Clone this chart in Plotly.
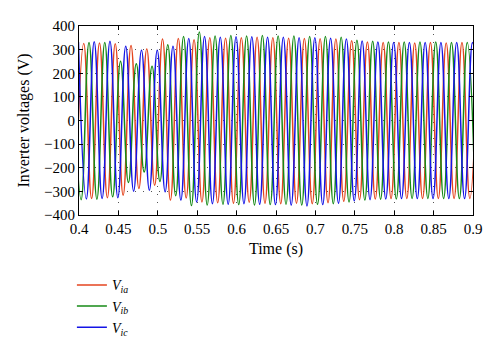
import plotly.graph_objects as go

# Extremum (peak / trough) times and values
ia_t = [0.396, 0.406, 0.416, 0.426, 0.436, 0.446, 0.456, 0.466, 0.476, 0.486,
        0.496, 0.506, 0.516, 0.526, 0.536, 0.546, 0.556, 0.566, 0.576, 0.586,
        0.596, 0.606, 0.616, 0.626, 0.636, 0.646, 0.656, 0.666, 0.676, 0.686,
        0.696, 0.706, 0.716, 0.726, 0.736, 0.746, 0.756, 0.766, 0.776, 0.786,
        0.796, 0.806, 0.816, 0.826, 0.836, 0.846, 0.856, 0.866, 0.876, 0.886,
        0.896, 0.906]
ia_v = [-330, 326, -330, 328, -327, 325, -316, 317, -288, 303,
        -274, 345, -337, 347, -328, 342, -345, 350, -348, 348,
        -350, 350, -346, 352, -350, 350, -352, 348, -350, 347,
        -352, 346, -348, 345, -342, 338, -335, 332, -332, 330,
        -330, 330, -330, 328, -330, 330, -330, 328, -330, 330,
        -330, 328]

ib_t = [0.3927, 0.4027, 0.4127, 0.4227, 0.4327, 0.4427, 0.4527, 0.4627, 0.4727, 0.4827,
        0.4927, 0.5027, 0.5127, 0.5227, 0.5327, 0.5427, 0.5527, 0.5627, 0.5727, 0.5827,
        0.5927, 0.6027, 0.6127, 0.6227, 0.6327, 0.6427, 0.6527, 0.6627, 0.6727, 0.6827,
        0.6927, 0.7027, 0.7127, 0.7227, 0.7327, 0.7427, 0.7527, 0.7627, 0.7727, 0.7827,
        0.7927, 0.8027, 0.8127, 0.8227, 0.8327, 0.8427, 0.8527, 0.8627, 0.8727, 0.8827,
        0.8927, 0.9027]
ib_v = [330, -335, 330, -333, 330, -323, 251, -262, 240, -218,
        230, -258, 321, -318, 356, -360, 375, -358, 358, -355,
        360, -356, 358, -358, 360, -356, 358, -355, 358, -358,
        356, -355, 356, -352, 352, -345, 340, -337, 335, -333,
        332, -332, 332, -330, 332, -330, 332, -330, 330, -330,
        330, -330]

ic_t = [0.3993, 0.4093, 0.4193, 0.4293, 0.4393, 0.4493, 0.4593, 0.4693, 0.4793, 0.4893,
        0.4993, 0.5093, 0.5193, 0.5293, 0.5393, 0.5493, 0.5593, 0.5693, 0.5793, 0.5893,
        0.5993, 0.6093, 0.6193, 0.6293, 0.6393, 0.6493, 0.6593, 0.6693, 0.6793, 0.6893,
        0.6993, 0.7093, 0.7193, 0.7293, 0.7393, 0.7493, 0.7593, 0.7693, 0.7793, 0.7893,
        0.7993, 0.8093, 0.8193, 0.8293, 0.8393, 0.8493, 0.8593, 0.8693, 0.8793, 0.8893,
        0.8993, 0.9093]
ic_v = [332, -332, 333, -330, 335, -327, 314, -299, 297, -295,
        297, -302, 314, -337, 347, -345, 356, -352, 352, -355,
        355, -352, 354, -355, 352, -356, 352, -358, 350, -362,
        350, -356, 348, -350, 345, -340, 336, -335, 332, -332,
        330, -330, 330, -330, 330, -330, 330, -330, 330, -330,
        330, -330]

x_ticks = [0.4, 0.45, 0.5, 0.55, 0.6, 0.65, 0.7, 0.75, 0.8, 0.85, 0.9]
y_ticks = [400, 300, 200, 100, 0, -100, -200, -300, -400]

series = [
    ("<i>V</i><sub><i>ia</i></sub>", ia_t, ia_v, "#e4451f"),
    ("<i>V</i><sub><i>ib</i></sub>", ib_t, ib_v, "#168a16"),
    ("<i>V</i><sub><i>ic</i></sub>", ic_t, ic_v, "#1414e6"),
]

fig = go.Figure()
for name, t, v, c in series:
    fig.add_trace(go.Scatter(
        x=t, y=v, name=name, mode="lines",
        line=dict(color=c, width=1.5, shape="spline", smoothing=1.3),
    ))

font_family = "Liberation Serif"
axis_common = dict(
    showline=True, linecolor="black", linewidth=1, mirror="ticks",
    ticks="inside", ticklen=4, tickcolor="black",
    showgrid=True, gridcolor="#555555", griddash="1px,7px", gridwidth=1,
    zeroline=False, automargin=False,
    tickfont=dict(family=font_family, size=15, color="black"),
)

fig.update_xaxes(
    range=[0.4, 0.9], tickvals=x_ticks,
    ticktext=[("%g" % v) for v in x_ticks],
    title=dict(text="Time (s)", font=dict(family=font_family, size=16, color="black"), standoff=6),
    **axis_common,
)
fig.update_yaxes(
    range=[-400, 400], tickvals=y_ticks,
    title=dict(text="Inverter voltages (V)", font=dict(family=font_family, size=16, color="black"), standoff=10),
    **axis_common,
)

# page body has an 8px margin, so the figure is 8px smaller and margins shifted
fig.update_layout(
    width=492, height=349, autosize=False,
    margin=dict(l=71, r=27, t=18, b=142),
    paper_bgcolor="white", plot_bgcolor="white",
    font=dict(family=font_family, size=15, color="black"),
    showlegend=True,
    legend=dict(
        orientation="v", x=-0.018, xanchor="left", y=-0.483, yanchor="middle",
        font=dict(family=font_family, size=14, color="black"),
        itemwidth=30, tracegroupgap=0, bgcolor="rgba(0,0,0,0)",
    ),
)

fig.write_html("out.html")
